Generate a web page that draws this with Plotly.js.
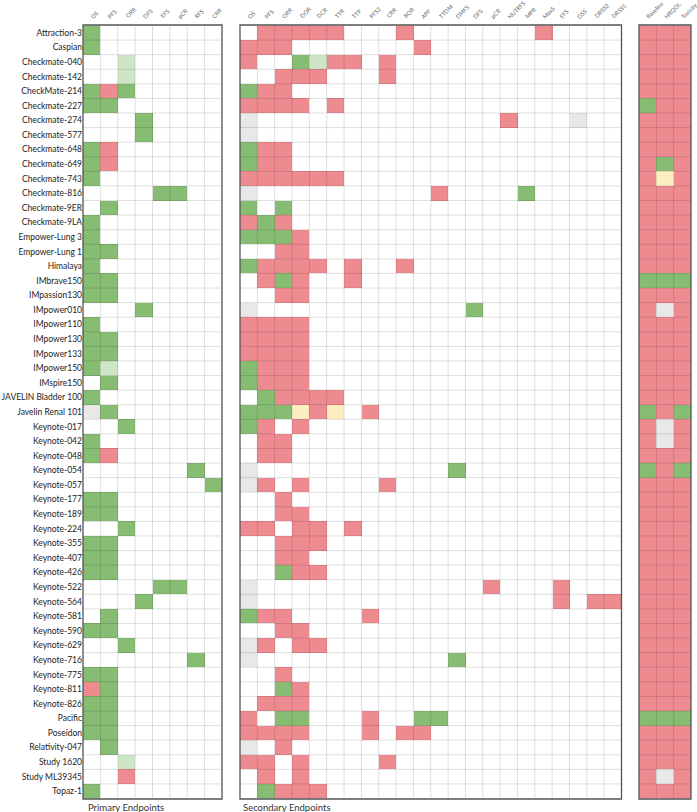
<!DOCTYPE html>
<html><head><meta charset="utf-8">
<script src="https://cdn.plot.ly/plotly-3.0.1.min.js"></script>
<style>
body { margin: 0; background: #fff; }
#chart { width: 697px; height: 812px; }
</style></head><body>
<div id="chart"></div>
<script>
// Trials, top to bottom
const trials = [
  'Attraction-3', 'Caspian', 'Checkmate-040', 'Checkmate-142', 'CheckMate-214', 'Checkmate-227',
  'Checkmate-274', 'Checkmate-577', 'Checkmate-648', 'Checkmate-649', 'Checkmate-743', 'Checkmate-816',
  'Checkmate-9ER', 'Checkmate-9LA', 'Empower-Lung 3', 'Empower-Lung 1', 'Himalaya', 'IMbrave150',
  'IMpassion130', 'IMpower010', 'IMpower110', 'IMpower130', 'IMpower133', 'IMpower150', 'IMspire150',
  'JAVELIN Bladder 100', 'Javelin Renal 101', 'Keynote-017', 'Keynote-042', 'Keynote-048', 'Keynote-054',
  'Keynote-057', 'Keynote-177', 'Keynote-189', 'Keynote-224', 'Keynote-355', 'Keynote-407', 'Keynote-426',
  'Keynote-522', 'Keynote-564', 'Keynote-581', 'Keynote-590', 'Keynote-629', 'Keynote-716', 'Keynote-775',
  'Keynote-811', 'Keynote-826', 'Pacific', 'Poseidon', 'Relativity-047', 'Study 1620', 'Study ML39345',
  'Topaz-1'
];

const primaryCols = ['OS', 'PFS', 'ORR', 'DFS', 'EFS', 'pCR', 'RFS', 'CRR'];
const secondaryCols = ['OS', 'PFS', 'ORR', 'DOR', 'DCR', 'TTR', 'TTP', 'PFS2', 'CRR', 'BOR', 'APF', 'TTDM',
  'DMFS', 'DFS', 'pCR', 'NUTRFS', 'MPR', 'MaxS', 'EFS', 'DSS', 'DRSS2', 'DRSS1'];
const otherCols = ['Baseline', 'HRQOL', 'Toxicity'];

// one char per column: G green, g light green, R red, X grey, Y yellow, . empty
const primary = [
  'G.......', 'G.......', '..g.....', '..g.....', 'GRG.....', 'GG......',
  '...G....', '...G....', 'GR......', 'GR......', 'G.......', '....GG..',
  '.G......', 'G.......', 'G.......', 'GG......', 'G.......', 'GG......',
  'GG......', '...G....', 'G.......', 'GG......', 'GG......', 'Gg......', '.G......',
  'G.......', 'XG......', '..G.....', 'G.......', 'GR......', '......G.',
  '.......G', 'GG......', 'GG......', '..G.....', 'GG......', 'GG......', 'GG......',
  '....GG..', '...G....', '.G......', 'GG......', '..G.....', '......G.', 'GG......',
  'RG......', 'GG......', 'GG......', 'GG......', '.G......', '..g.....', '..R.....',
  'G.......'
];

const secondary = [
  '.RRRRR...R.......R....', 'RRR.......R...........', 'R..GgRR.R.............', '..RRR...R.............',
  'GRR...................', 'RRRR.R................', 'X..............R...X..', 'X.....................',
  'GRR...................', 'GRR...................', 'RRRRRR................', 'X..........R....G.....',
  'G.G...................', 'RGR...................', 'GGGR..................', '..RR..................',
  'GRRRR.R..R............', '.RGR..R...............', '..RR..................', 'X............G........',
  'RRRR..................', 'RRRR..................', 'RRRR..................', 'GRRR..................',
  'GRRR..................', '.GRRRR................', 'GGGYRY.R..............', 'GR.R..................',
  '.RR...................', '.RR...................', 'X...........G.........', 'XR.R....R.............',
  '..R...................', '..RR..................', 'RR.RR.R...............', '..RRR.................',
  '..RR..................', '..GRR.................', 'X.............R...R...', 'X.................R.RR',
  'GRR....R..............', '..RR..................', 'XR.RR.................', 'X...........G.........',
  '..R...................', '..GR..................', '.RRR..................', 'R.GG...R..GG..........',
  'RRRR...R.RR...........', 'X.R...................', 'RR.R....R.............', '.R.R..................',
  '.GRRR.................'
];

const other = [
  'RRR', 'RRR', 'RRR', 'RRR', 'RRR', 'GRR', 'RRR', 'RRR', 'RRR', 'RGR', 'RYR', 'RRR',
  'RRR', 'RRR', 'RRR', 'RRR', 'RRR', 'GGG', 'RRR', 'RXR', 'RRR', 'RRR', 'RRR', 'RRR',
  'RRR', 'RRR', 'GRG', 'RXR', 'RXR', 'RRR', 'GRG', 'RRR', 'RRR', 'RRR', 'RRR', 'RRR',
  'RRR', 'RRR', 'RRR', 'RRR', 'RRR', 'RRR', 'RRR', 'RRR', 'RRR', 'RRR', 'RRR', 'GGG',
  'RRR', 'RRR', 'RRR', 'RXR', 'RRR'
];

const codeVal = { '.': 0, 'G': 1, 'g': 2, 'R': 3, 'X': 4, 'Y': 5 };
const colorscale = [
  [0, '#ffffff'], [0.1, '#ffffff'],
  [0.1, '#87bc73'], [0.3, '#87bc73'],
  [0.3, '#cfe6c6'], [0.5, '#cfe6c6'],
  [0.5, '#ee8b91'], [0.7, '#ee8b91'],
  [0.7, '#e8e8e8'], [0.9, '#e8e8e8'],
  [0.9, '#fdeec2'], [1, '#fdeec2']
];

function panel(rows, cols, xa) {
  return {
    type: 'heatmap',
    x: cols.map((c, i) => i),
    y: trials,
    z: rows.map(r => r.split('').map(ch => codeVal[ch])),
    zmin: 0, zmax: 5,
    colorscale: colorscale,
    showscale: false,
    hoverinfo: 'skip',
    xaxis: xa, yaxis: 'y'
  };
}

const W = 697, H = 812;
const plotTop = 25, plotBottom = 799;
const font = 'Lato, sans-serif';

function xax(cols, left, right) {
  return {
    domain: [left / W, right / W],
    range: [-0.5, cols.length - 0.5],
    showticklabels: false,
    ticks: '', showgrid: false, zeroline: false, showline: false,
    anchor: 'y', fixedrange: true
  };
}

// faint cell borders drawn over the cells, panel frames, slanted column headers
const shapes = [];
const annotations = [];
[['x', primaryCols], ['x2', secondaryCols], ['x3', otherCols]].forEach(([xr, cols]) => {
  const line = { color: 'rgba(0,0,0,0.13)', width: 1 };
  for (let i = 0; i < cols.length - 1; i++) {
    shapes.push({ type: 'line', xref: xr, yref: 'y', x0: i + 0.5, x1: i + 0.5,
      y0: -0.5, y1: trials.length - 0.5, line: line, layer: 'above' });
  }
  for (let j = 0; j < trials.length - 1; j++) {
    shapes.push({ type: 'line', xref: xr, yref: 'y', x0: -0.5, x1: cols.length - 0.5,
      y0: j + 0.5, y1: j + 0.5, line: line, layer: 'above' });
  }
  shapes.push({ type: 'rect', xref: xr + ' domain', yref: 'y domain', x0: 0, x1: 1, y0: 0, y1: 1,
    line: { color: '#555', width: 1.3 }, fillcolor: 'rgba(0,0,0,0)', layer: 'above' });
  cols.forEach((c, i) => {
    annotations.push({ text: c, xref: xr, yref: 'paper', x: i, y: 1 - 21 / H,
      xanchor: 'left', yanchor: 'bottom', xshift: -4, textangle: -45, showarrow: false,
      borderpad: 0, font: { family: font, size: 5.8, color: '#666' } });
  });
});

annotations.push(
  { text: 'Primary Endpoints', xref: 'paper', yref: 'paper', x: 86 / W, y: 1 - 807 / H,
    xanchor: 'left', yanchor: 'middle', showarrow: false,
    font: { family: font, size: 9.5, color: '#333' } },
  { text: 'Secondary Endpoints', xref: 'paper', yref: 'paper', x: 241 / W, y: 1 - 807 / H,
    xanchor: 'left', yanchor: 'middle', showarrow: false,
    font: { family: font, size: 9.5, color: '#333' } }
);

const layout = {
  width: W, height: H,
  margin: { l: 0, r: 0, t: 0, b: 0 },
  paper_bgcolor: '#fff', plot_bgcolor: '#fff',
  showlegend: false,
  xaxis: xax(primaryCols, 83, 222),
  xaxis2: xax(secondaryCols, 240, 621.5),
  xaxis3: xax(otherCols, 639, 691),
  yaxis: {
    domain: [1 - plotBottom / H, 1 - plotTop / H],
    autorange: 'reversed',
    type: 'category',
    ticks: '', showgrid: false, zeroline: false, showline: false,
    tickfont: { family: font, size: 8.5, color: '#222' },
    anchor: 'x', fixedrange: true
  },
  shapes: shapes,
  annotations: annotations
};

Plotly.newPlot('chart', [
  panel(primary, primaryCols, 'x'),
  panel(secondary, secondaryCols, 'x2'),
  panel(other, otherCols, 'x3')
], layout, { displayModeBar: false, staticPlot: true });
</script>
</body></html>
